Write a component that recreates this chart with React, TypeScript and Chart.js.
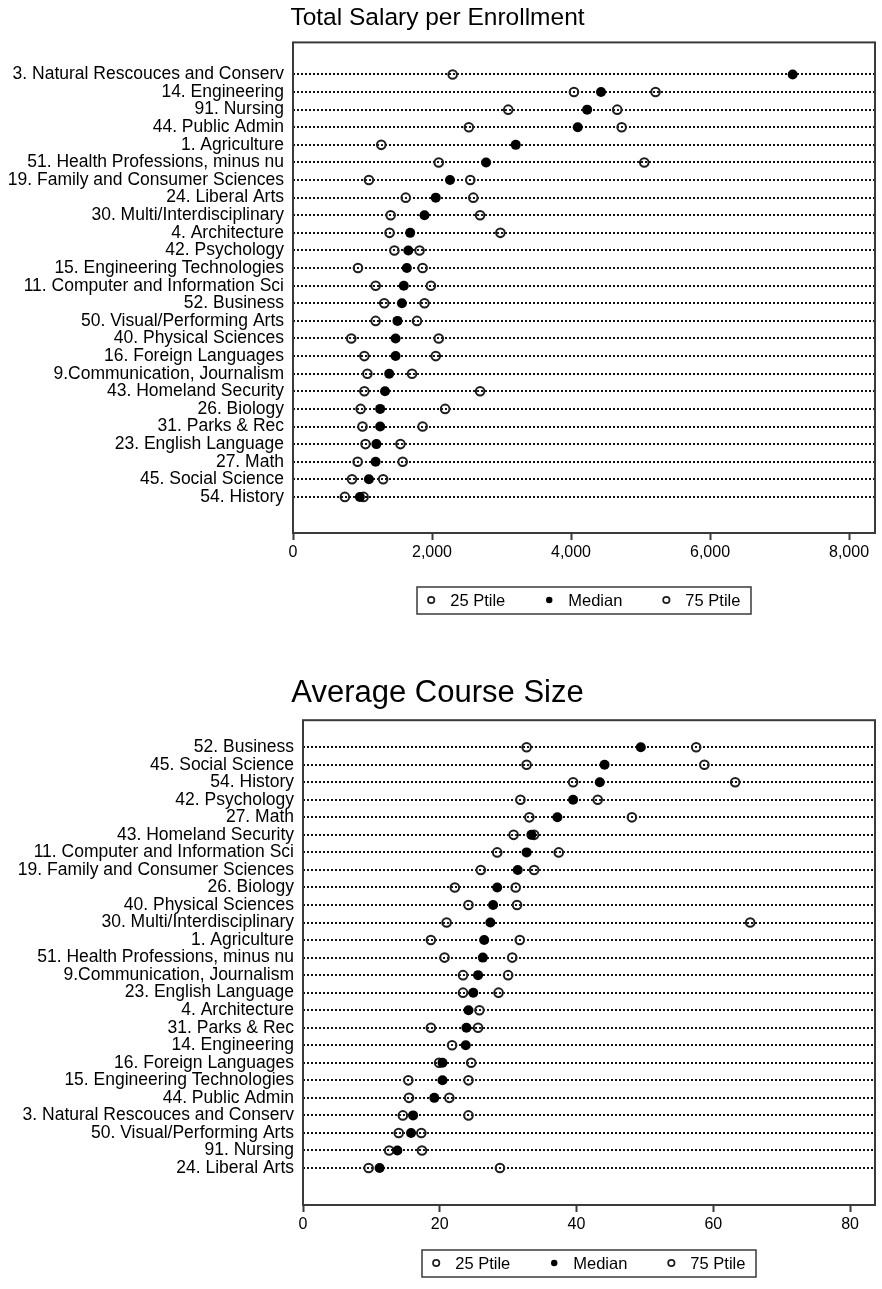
import React, { useEffect, useRef } from 'react';
import { Chart, registerables } from 'chart.js';

Chart.register(...registerables);
Chart.defaults.font.family = '"Liberation Sans", Arial, Helvetica, sans-serif';
Chart.defaults.color = '#000';

// ---------- Data: Total Salary per Enrollment ----------
const salaryCategories = [
  '3. Natural Rescouces and Conserv',
  '14. Engineering',
  '91. Nursing',
  '44. Public Admin',
  '1. Agriculture',
  '51. Health Professions, minus nu',
  '19. Family and Consumer Sciences',
  '24. Liberal Arts',
  '30. Multi/Interdisciplinary',
  '4. Architecture',
  '42. Psychology',
  '15. Engineering Technologies',
  '11. Computer and Information Sci',
  '52. Business',
  '50. Visual/Performing Arts',
  '40. Physical Sciences',
  '16. Foreign Languages',
  '9.Communication, Journalism',
  '43. Homeland Security',
  '26. Biology',
  '31. Parks & Rec',
  '23. English Language',
  '27. Math',
  '45. Social Science',
  '54. History',
];
const salaryP25 = [2297, 4043, 3097, 2530, 1270, 2097, 1092, 1622, 1405, 1389, 1459, 935, 1189, 1313, 1189, 838, 1027, 1070, 1027, 973, 1000, 1043, 930, 849, 746];
const salaryMedian = [7189, 4432, 4232, 4097, 3205, 2778, 2259, 2054, 1892, 1686, 1659, 1638, 1594, 1567, 1503, 1476, 1476, 1384, 1324, 1254, 1254, 1200, 1189, 1092, 962];
const salaryP75 = [null, 5216, 4665, 4729, null, 5054, 2551, 2594, 2692, 2984, 1821, 1865, 1984, 1892, 1784, 2097, 2054, 1713, 2692, 2189, 1865, 1546, 1578, 1297, 1016];
const salaryTicks = [0, 2000, 4000, 6000, 8000];

// ---------- Data: Average Course Size ----------
const courseCategories = [
  '52. Business',
  '45. Social Science',
  '54. History',
  '42. Psychology',
  '27. Math',
  '43. Homeland Security',
  '11. Computer and Information Sci',
  '19. Family and Consumer Sciences',
  '26. Biology',
  '40. Physical Sciences',
  '30. Multi/Interdisciplinary',
  '1. Agriculture',
  '51. Health Professions, minus nu',
  '9.Communication, Journalism',
  '23. English Language',
  '4. Architecture',
  '31. Parks & Rec',
  '14. Engineering',
  '16. Foreign Languages',
  '15. Engineering Technologies',
  '44. Public Admin',
  '3. Natural Rescouces and Conserv',
  '50. Visual/Performing Arts',
  '91. Nursing',
  '24. Liberal Arts',
];
const courseP25 = [32.7, 32.7, 39.5, 31.8, 33.1, 30.8, 28.4, 26.0, 22.2, 24.2, 21.0, 18.7, 20.7, 23.4, 23.4, null, 18.7, 21.8, 19.9, 15.4, 15.5, 14.6, 14.0, 12.6, 9.6];
const courseMedian = [49.4, 44.1, 43.4, 39.5, 37.2, 33.4, 32.7, 31.4, 28.4, 27.8, 27.4, 26.5, 26.3, 25.6, 24.9, 24.2, 23.9, 23.8, 20.4, 20.4, 19.2, 16.1, 15.8, 13.8, 11.2];
const courseP75 = [57.5, 58.7, 63.2, 43.1, 48.1, 33.8, 37.4, 33.8, 31.1, 31.3, 65.4, 31.7, 30.6, 30.0, 28.6, 25.8, 25.6, null, 24.6, 24.2, 21.4, 24.2, 17.3, 17.4, 28.8];
const courseTicks = [0, 20, 40, 60, 80];

const legendLabels = ['25 Ptile', 'Median', '75 Ptile'];

const INK = '#1e1e1e';

const framePlugin = {
  id: 'frameLegend',
  afterDraw(chart: any, _args: any, opts: any) {
    const { ctx, chartArea: a } = chart;
    ctx.save();
    ctx.strokeStyle = '#3a3a3a';
    ctx.lineWidth = 2;
    ctx.strokeRect(a.left, a.top, a.right - a.left, a.bottom - a.top);

    // legend box
    ctx.font = '16.5px "Liberation Sans", Arial, Helvetica, sans-serif';
    const r = 3.2;
    const gapText = 19;
    const gapItem = 44;
    const pad = 11;
    const widths = legendLabels.map((t) => ctx.measureText(t).width);
    const pos: { c: number; t: number }[] = [];
    let x = 0;
    widths.forEach((w, i) => {
      const c = x + r;
      const t = c + gapText;
      pos.push({ c, t });
      x = t + w + (i < widths.length - 1 ? gapItem - r : 0);
    });
    const boxW = x + pad * 2;
    const boxH = 27;
    const cx = (a.left + a.right) / 2;
    const left = Math.round(cx - boxW / 2);
    const cy = a.bottom + opts.legendOffset;
    ctx.lineWidth = 1.5;
    ctx.strokeStyle = '#3a3a3a';
    ctx.strokeRect(left, Math.round(cy - boxH / 2), Math.round(boxW), boxH);
    ctx.textBaseline = 'middle';
    ctx.textAlign = 'left';
    ctx.fillStyle = '#000';
    pos.forEach((p, i) => {
      ctx.beginPath();
      ctx.arc(left + pad + p.c, cy, r, 0, Math.PI * 2);
      if (i === 1) {
        ctx.fillStyle = '#000';
        ctx.fill();
      } else {
        ctx.lineWidth = 1.7;
        ctx.strokeStyle = INK;
        ctx.stroke();
      }
      ctx.fillStyle = '#000';
      ctx.fillText(legendLabels[i], left + pad + p.t, cy + 1);
    });
    ctx.restore();
  },
};

type DotProps = {
  title: string;
  titleSize: number;
  categories: string[];
  p25: (number | null)[];
  median: (number | null)[];
  p75: (number | null)[];
  ticks: number[];
  xMax: number;
  yMin: number;
  yMax: number;
  leftWidth: number;
  height: number;
  padBottom: number;
  titlePad: { top: number; bottom: number };
  legendOffset: number;
  top: number;
};

function toPoints(vals: (number | null)[]) {
  const pts: { x: number; y: number }[] = [];
  vals.forEach((v, i) => {
    if (v !== null && v !== undefined) pts.push({ x: v, y: i });
  });
  return pts;
}

function DotChart(props: DotProps) {
  const ref = useRef<HTMLCanvasElement | null>(null);
  useEffect(() => {
    if (!ref.current) return;
    const hollow = {
      pointStyle: 'circle',
      pointRadius: 4.3,
      pointBorderWidth: 2,
      pointBackgroundColor: 'rgba(0,0,0,0)',
      pointBorderColor: INK,
      showLine: false,
      order: 1,
    };
    const chart = new Chart(ref.current, {
      type: 'scatter',
      data: {
        datasets: [
          { label: legendLabels[0], data: toPoints(props.p25), ...hollow },
          {
            label: legendLabels[1],
            data: toPoints(props.median),
            pointStyle: 'circle',
            pointRadius: 5,
            pointBorderWidth: 0,
            pointBackgroundColor: '#000',
            pointBorderColor: '#000',
            showLine: false,
            order: 0,
          },
          { label: legendLabels[2], data: toPoints(props.p75), ...hollow },
        ],
      },
      options: {
        responsive: false,
        animation: false,
        events: [],
        layout: { padding: { left: 0, right: 7, top: 0, bottom: props.padBottom } },
        plugins: {
          legend: { display: false },
          tooltip: { enabled: false },
          title: {
            display: true,
            text: props.title,
            font: { size: props.titleSize, weight: 'normal' },
            color: '#000',
            padding: props.titlePad,
          },
          frameLegend: { legendOffset: props.legendOffset },
        } as any,
        scales: {
          x: {
            type: 'linear',
            min: 0,
            max: props.xMax,
            border: { display: false },
            grid: {
              drawOnChartArea: false,
              drawTicks: true,
              tickLength: 7,
              tickColor: '#3a3a3a',
              tickWidth: 2,
            },
            ticks: {
              font: { size: 16 },
              color: '#000',
              padding: 3,
              maxRotation: 0,
              callback: (v: any) => Number(v).toLocaleString('en-US'),
            },
            afterBuildTicks: (s: any) => {
              s.ticks = props.ticks.map((v) => ({ value: v }));
            },
            afterFit: (s: any) => {
              s.height = 32;
            },
          },
          y: {
            type: 'linear',
            reverse: true,
            min: props.yMin,
            max: props.yMax,
            border: { display: false, dash: [2, 2] },
            grid: {
              drawTicks: false,
              color: '#111',
              lineWidth: 2,
            },
            ticks: {
              autoSkip: false,
              font: { size: 17.5 },
              color: '#000',
              padding: 9,
              callback: (v: any) => props.categories[v] ?? '',
            },
            afterBuildTicks: (s: any) => {
              s.ticks = props.categories.map((_, i) => ({ value: i }));
            },
            afterFit: (s: any) => {
              s.width = props.leftWidth;
            },
          },
        },
      } as any,
      plugins: [framePlugin as any],
    });
    return () => chart.destroy();
  }, []);
  return (
    <canvas
      ref={ref}
      width={882}
      height={props.height}
      style={{ position: 'absolute', left: 0, top: props.top, width: 882, height: props.height, display: 'block' }}
    />
  );
}

export default function App() {
  return (
    <div style={{ position: 'absolute', left: 0, top: 0, width: 882, height: 1289, background: '#fff' }}>
      <DotChart
        title="Total Salary per Enrollment"
        titleSize={24.5}
        categories={salaryCategories}
        p25={salaryP25}
        median={salaryMedian}
        p75={salaryP75}
        ticks={salaryTicks}
        xMax={8374}
        yMin={-1.82}
        yMax={26.05}
        leftWidth={293}
        height={660}
        padBottom={660 - 533 - 32}
        titlePad={{ top: 4, bottom: 9 }}
        legendOffset={67}
        top={0}
      />
      <DotChart
        title="Average Course Size"
        titleSize={31}
        categories={courseCategories}
        p25={courseP25}
        median={courseMedian}
        p75={courseP75}
        ticks={courseTicks}
        xMax={83.65}
        yMin={-1.54}
        yMax={26.11}
        leftWidth={303}
        height={614}
        padBottom={614 - 530 - 32}
        titlePad={{ top: 0, bottom: 8 }}
        legendOffset={58}
        top={675}
      />
    </div>
  );
}
